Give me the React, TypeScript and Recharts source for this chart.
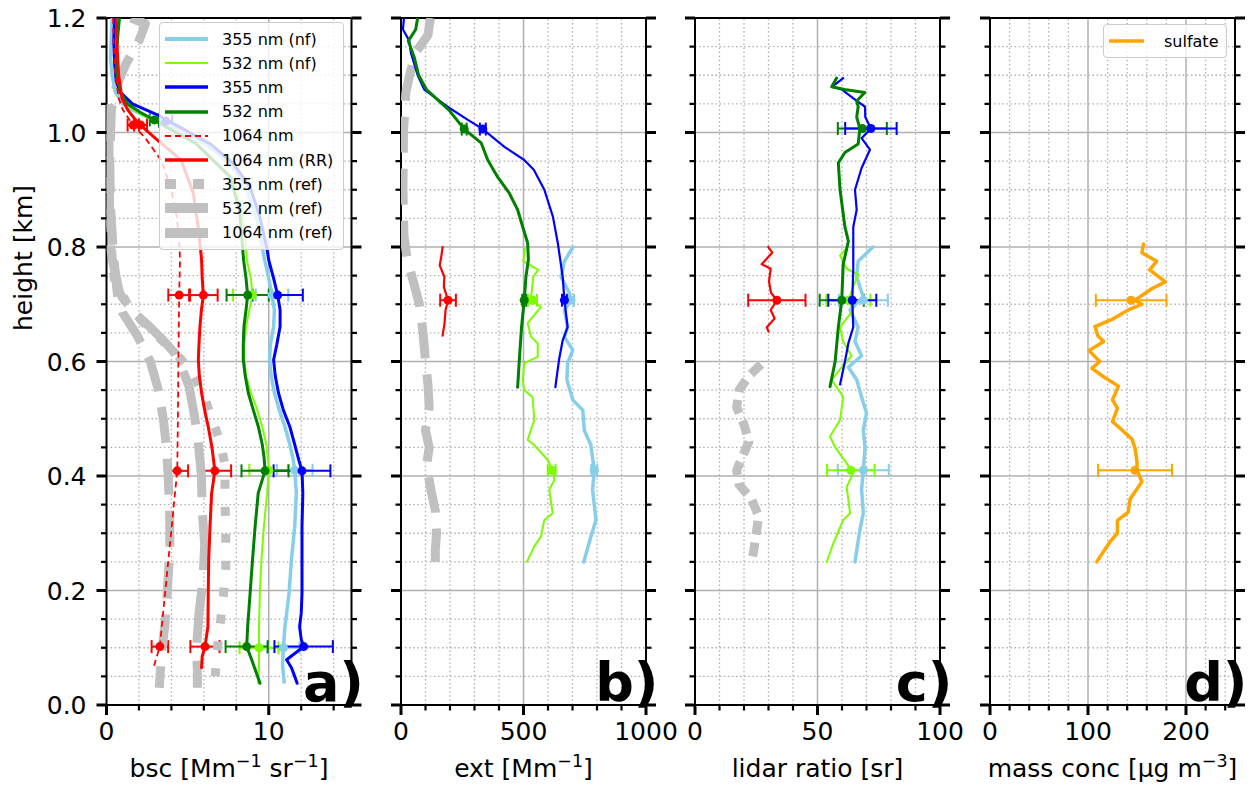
import React from "react";
import { ScatterChart, Scatter, XAxis, YAxis, ReferenceLine, ErrorBar, Legend } from "recharts";

// every profile point is [height km, value]; error points are [height km, value, error]
type Pt = [number, number];
type ErrPt = [number, number, number];

// ---------- a) backscatter coefficient [Mm-1 sr-1]
const bsc355nf: Pt[] = [
  [1.2, 0.35], [1.17, 0.3], [1.13, 0.25], [1.1, 0.35], [1.07, 0.55], [1.05, 1.0], [1.035, 1.9], [1.025, 2.8],
  [1.016, 3.7], [0.98, 6.1], [0.946, 7.6], [0.905, 8.6], [0.853, 9.25], [0.8, 9.6], [0.777, 9.75], [0.745, 10.0],
  [0.716, 10.2], [0.69, 10.35], [0.661, 10.3], [0.63, 10.1], [0.603, 10.05], [0.575, 10.15], [0.545, 10.35],
  [0.515, 10.65], [0.486, 11.0], [0.455, 11.3], [0.43, 11.5], [0.41, 11.6], [0.37, 11.7], [0.312, 11.6],
  [0.254, 11.4], [0.195, 11.25], [0.16, 11.1], [0.137, 11.0], [0.1, 10.9], [0.07, 10.85], [0.04, 10.95],
];
const bsc532nf: Pt[] = [
  [1.2, 0.6], [1.16, 0.5], [1.12, 0.5], [1.09, 0.6], [1.065, 0.85], [1.045, 1.4], [1.03, 2.2], [1.02, 3.0],
  [0.98, 5.6], [0.923, 7.7], [0.865, 8.35], [0.8, 8.6], [0.777, 8.65], [0.745, 8.9], [0.716, 9.0], [0.69, 8.8],
  [0.661, 8.6], [0.63, 8.5], [0.603, 8.5], [0.575, 8.6], [0.545, 8.9], [0.515, 9.3], [0.486, 9.6], [0.455, 9.85],
  [0.43, 9.95], [0.41, 10.0], [0.37, 9.9], [0.312, 9.7], [0.254, 9.55], [0.195, 9.45], [0.137, 9.4], [0.1, 9.4],
  [0.07, 9.4], [0.038, 9.35],
];
const bsc355: Pt[] = [
  [1.2, 0.5], [1.16, 0.45], [1.12, 0.5], [1.09, 0.6], [1.07, 0.85], [1.05, 1.6], [1.04, 2.4], [1.03, 3.2],
  [1.02, 3.8], [1.016, 4.1], [0.98, 6.4], [0.946, 7.8], [0.905, 8.85], [0.853, 9.45], [0.795, 9.9], [0.777, 10.0],
  [0.745, 10.3], [0.716, 10.55], [0.69, 10.7], [0.661, 10.7], [0.63, 10.5], [0.603, 10.3], [0.575, 10.4],
  [0.545, 10.6], [0.515, 10.9], [0.486, 11.3], [0.455, 11.6], [0.428, 11.85], [0.409, 12.05], [0.37, 12.1],
  [0.312, 12.05], [0.25, 12.05], [0.195, 12.05], [0.16, 12.0], [0.137, 11.9], [0.115, 12.0], [0.102, 12.15],
  [0.09, 11.6], [0.079, 11.1], [0.065, 11.4], [0.05, 11.6], [0.038, 11.75],
];
const bsc532: Pt[] = [
  [1.2, 0.8], [1.17, 0.7], [1.13, 0.6], [1.1, 0.65], [1.07, 0.85], [1.05, 1.3], [1.035, 2.1], [1.022, 2.9],
  [0.981, 5.5], [0.923, 7.6], [0.865, 8.2], [0.795, 8.4], [0.777, 8.45], [0.745, 8.6], [0.716, 8.7], [0.69, 8.6],
  [0.661, 8.47], [0.63, 8.43], [0.603, 8.43], [0.575, 8.55], [0.545, 8.74], [0.515, 9.05], [0.486, 9.36],
  [0.455, 9.6], [0.43, 9.72], [0.409, 9.77], [0.37, 9.35], [0.312, 9.16], [0.254, 9.0], [0.195, 8.85],
  [0.137, 8.7], [0.102, 8.64], [0.079, 8.95], [0.055, 9.25], [0.038, 9.46],
];
const bsc1064: Pt[] = [
  [1.2, 0.4], [1.15, 0.45], [1.1, 0.55], [1.06, 0.75], [1.04, 1.0], [1.025, 1.35], [1.013, 1.65], [0.99, 2.4],
  [0.95, 3.4], [0.9, 4.0], [0.85, 4.35], [0.8, 4.5], [0.777, 4.53], [0.716, 4.48], [0.65, 4.45], [0.6, 4.43],
  [0.5, 4.4], [0.409, 4.36], [0.35, 4.15], [0.3, 3.98], [0.25, 3.8], [0.2, 3.63], [0.15, 3.45], [0.102, 3.29],
  [0.08, 3.05], [0.063, 2.88],
];
const bsc1064rr: Pt[] = [
  [1.2, 0.6], [1.15, 0.65], [1.1, 0.75], [1.06, 0.95], [1.04, 1.3], [1.025, 1.7], [1.013, 2.1], [0.99, 3.0],
  [0.952, 4.6], [0.894, 5.35], [0.836, 5.65], [0.795, 5.8], [0.777, 5.86], [0.745, 5.9], [0.716, 5.97],
  [0.69, 5.85], [0.661, 5.76], [0.63, 5.7], [0.603, 5.66], [0.575, 5.72], [0.545, 5.86], [0.515, 6.05],
  [0.486, 6.27], [0.45, 6.5], [0.409, 6.68], [0.37, 6.48], [0.312, 6.38], [0.254, 6.3], [0.195, 6.27],
  [0.137, 6.25], [0.102, 6.07], [0.085, 5.9], [0.065, 5.86],
];
const refBsc355: Pt[] = [
  [0.85, 0.2], [0.8, 0.25], [0.74, 0.5], [0.7, 1.3], [0.67, 2.2], [0.64, 3.3], [0.61, 4.4], [0.58, 5.3],
  [0.54, 6.0], [0.5, 6.5], [0.46, 7.0], [0.42, 7.3], [0.36, 7.3], [0.3, 7.35], [0.24, 7.35], [0.19, 7.2],
  [0.14, 7.0], [0.09, 6.8], [0.05, 6.7],
];
const refBsc532: Pt[] = [
  [1.2, 1.5], [1.19, 2.4], [1.16, 2.0], [1.12, 1.2], [1.08, 0.6], [1.04, 0.3], [0.95, 0.2], [0.87, 0.25],
  [0.8, 0.4], [0.75, 0.55], [0.71, 0.7], [0.685, 1.0], [0.645, 1.9], [0.6, 2.7], [0.55, 3.2], [0.5, 3.5],
  [0.45, 3.7], [0.4, 3.8], [0.33, 3.9], [0.27, 3.9], [0.2, 3.75], [0.14, 3.6], [0.09, 3.4], [0.05, 3.3], [0.03, 3.25],
];
const refBsc1064: Pt[] = [
  [1.05, 0.15], [0.95, 0.15], [0.85, 0.2], [0.78, 0.35], [0.72, 0.8], [0.69, 1.5], [0.665, 2.5], [0.64, 3.4],
  [0.615, 4.2], [0.585, 4.7], [0.555, 5.1], [0.5, 5.45], [0.46, 5.65], [0.4, 5.85], [0.34, 5.9], [0.28, 6.05],
  [0.22, 5.95], [0.16, 5.7], [0.1, 5.55], [0.06, 5.6], [0.03, 5.6],
];
const errBsc355nf: ErrPt[] = [[0.716, 10.2, 1.0], [0.41, 11.6, 1.1], [0.1, 10.9, 1.0]];
const errBsc532nf: ErrPt[] = [[0.716, 9.0, 1.2], [0.41, 10.0, 1.2], [0.1, 9.4, 1.2]];
const errBsc355: ErrPt[] = [[1.02, 3.65, 0.4], [0.716, 10.55, 1.55], [0.409, 12.05, 1.75], [0.102, 12.15, 1.8]];
const errBsc532: ErrPt[] = [[1.022, 2.95, 0.28], [0.716, 8.7, 1.3], [0.409, 9.77, 1.45], [0.102, 8.64, 1.3]];
const errBsc1064: ErrPt[] = [[1.013, 1.65, 0.35], [0.716, 4.48, 0.67], [0.409, 4.36, 0.67], [0.102, 3.29, 0.51]];
const errBsc1064rr: ErrPt[] = [[1.013, 2.1, 0.4], [0.716, 5.97, 0.88], [0.409, 6.68, 1.0], [0.102, 6.07, 0.9]];

// ---------- b) extinction coefficient [Mm-1]
const ext355nf: Pt[] = [
  [0.8, 702], [0.775, 667], [0.748, 653], [0.72, 687], [0.707, 694], [0.69, 667], [0.66, 680], [0.643, 667],
  [0.62, 701], [0.597, 680], [0.568, 677], [0.533, 701], [0.515, 742], [0.48, 748], [0.454, 775], [0.41, 789],
  [0.376, 782], [0.323, 796], [0.294, 775], [0.25, 746],
];
const ext532nf: Pt[] = [
  [0.797, 506], [0.775, 500], [0.76, 560], [0.748, 540], [0.713, 531], [0.707, 537], [0.695, 571], [0.667, 517],
  [0.643, 531], [0.632, 558], [0.608, 558], [0.597, 503], [0.568, 497], [0.55, 503], [0.538, 537], [0.498, 544],
  [0.463, 517], [0.454, 544], [0.428, 599], [0.41, 619], [0.393, 626], [0.376, 605], [0.335, 619], [0.323, 585],
  [0.294, 571], [0.277, 544], [0.25, 514],
];
const ext355: Pt[] = [
  [1.2, 12], [1.18, 8], [1.16, 34], [1.14, 40], [1.1, 68], [1.075, 95], [1.045, 190], [1.022, 273], [1.006, 334],
  [0.975, 422], [0.952, 503], [0.935, 542], [0.9, 585], [0.853, 620], [0.807, 640], [0.748, 660], [0.707, 667],
  [0.66, 680], [0.637, 660], [0.603, 645], [0.555, 630],
];
const ext532: Pt[] = [
  [1.2, 68], [1.18, 60], [1.16, 30], [1.13, 55], [1.1, 72], [1.075, 104], [1.039, 196], [1.006, 258], [0.982, 327],
  [0.952, 354], [0.922, 395], [0.894, 442], [0.865, 476], [0.835, 497], [0.807, 517], [0.778, 520], [0.748, 510],
  [0.707, 503], [0.66, 492], [0.603, 483], [0.555, 476],
];
const ext1064: Pt[] = [
  [0.8, 170], [0.785, 165], [0.768, 158], [0.748, 177], [0.73, 175], [0.707, 192], [0.69, 182], [0.664, 177],
  [0.652, 172], [0.645, 170],
];
const refExt: Pt[] = [
  [1.2, 120], [1.17, 110], [1.14, 60], [1.1, 35], [1.07, 20], [1.0, 10], [0.9, 8], [0.82, 12], [0.78, 25],
  [0.74, 50], [0.7, 75], [0.65, 90], [0.6, 100], [0.56, 110], [0.52, 115], [0.48, 100], [0.45, 115], [0.42, 105],
  [0.38, 120], [0.34, 140], [0.3, 145], [0.27, 140], [0.25, 140],
];
const errExt355nf: ErrPt[] = [[0.707, 694, 12], [0.41, 789, 12]];
const errExt532nf: ErrPt[] = [[0.707, 537, 18], [0.41, 615, 16]];
const errExt355: ErrPt[] = [[1.006, 334, 12], [0.707, 667, 10]];
const errExt532: ErrPt[] = [[1.006, 258, 10], [0.707, 503, 8]];
const errExt1064: ErrPt[] = [[0.707, 192, 32]];

// ---------- c) lidar ratio [sr]
const lr355nf: Pt[] = [
  [0.8, 72.6], [0.775, 66.6], [0.748, 66], [0.73, 67.3], [0.713, 68.7], [0.69, 63.3], [0.66, 66.6], [0.635, 65.3],
  [0.61, 68], [0.59, 62.6], [0.568, 66], [0.538, 68], [0.51, 70], [0.48, 68.7], [0.451, 69.4], [0.41, 68.7],
  [0.376, 68], [0.335, 68.7], [0.306, 67.3], [0.25, 65.3],
];
const lr532nf: Pt[] = [
  [0.795, 61.2], [0.785, 59.2], [0.762, 61.9], [0.752, 66.6], [0.73, 64.5], [0.707, 62.6], [0.69, 64.6],
  [0.66, 59.2], [0.635, 60.5], [0.61, 63.9], [0.59, 59.9], [0.568, 55.8], [0.538, 60.5], [0.498, 59.2],
  [0.469, 55.1], [0.451, 57.1], [0.422, 61.9], [0.405, 64.6], [0.381, 61.9], [0.335, 63.3], [0.323, 60.5],
  [0.283, 56.5], [0.25, 53.8],
];
const lr355: Pt[] = [
  [1.095, 60.5], [1.08, 56], [1.075, 60], [1.06, 64.5], [1.045, 69.4], [1.027, 69.5], [1.007, 71.8], [0.99, 68],
  [0.97, 71.4], [0.938, 68], [0.9, 65.3], [0.865, 66], [0.835, 64.6], [0.807, 64.6], [0.762, 64.6], [0.707, 64.2],
  [0.66, 64.6], [0.632, 62.6], [0.6, 61.2], [0.56, 59.2],
];
const lr532: Pt[] = [
  [1.095, 57.8], [1.08, 55.8], [1.075, 61], [1.07, 69.3], [1.055, 66], [1.045, 66.6], [1.027, 66], [1.007, 67.3],
  [0.98, 66.6], [0.965, 61.2], [0.947, 58.5], [0.9, 59.2], [0.835, 61.2], [0.81, 62.6], [0.77, 60.5],
  [0.707, 59.9], [0.66, 58.5], [0.6, 57.2], [0.556, 55.1],
];
const lr1064: Pt[] = [
  [0.8, 29.9], [0.79, 31.5], [0.77, 27.2], [0.762, 30.9], [0.74, 30.2], [0.72, 31], [0.707, 33.4], [0.69, 30.9],
  [0.675, 32.5], [0.66, 29.3], [0.652, 30],
];
const refLr: Pt[] = [
  [0.595, 27], [0.575, 22], [0.55, 18], [0.52, 17], [0.49, 20], [0.46, 22], [0.43, 19], [0.41, 17], [0.385, 18],
  [0.36, 23], [0.33, 26], [0.3, 25], [0.27, 24], [0.25, 23],
];
const errLr355nf: ErrPt[] = [[0.707, 68.7, 10], [0.41, 68.7, 10.4]];
const errLr532nf: ErrPt[] = [[0.707, 62.6, 9], [0.41, 63.6, 9.7]];
const errLr355: ErrPt[] = [[1.007, 71.8, 10.5], [0.707, 64.2, 9.8]];
const errLr532: ErrPt[] = [[1.007, 68.3, 10], [0.707, 59.9, 9]];
const errLr1064: ErrPt[] = [[0.707, 33.4, 11.7]];

// ---------- d) sulfate mass concentration [ug m-3]
const sulfate: Pt[] = [
  [0.805, 156.6], [0.79, 155], [0.775, 170], [0.76, 163], [0.739, 179], [0.727, 165], [0.707, 148], [0.7, 155],
  [0.69, 141], [0.673, 124], [0.661, 107], [0.645, 110], [0.635, 116], [0.619, 101], [0.6, 112], [0.588, 104],
  [0.572, 117], [0.557, 131], [0.533, 125], [0.518, 130], [0.495, 125], [0.483, 133], [0.464, 145], [0.448, 148],
  [0.425, 150], [0.41, 150], [0.39, 155], [0.36, 143], [0.337, 141], [0.322, 130], [0.3, 130], [0.284, 122],
  [0.257, 111.5], [0.25, 109],
];
const errSulfate: ErrPt[] = [[0.707, 144, 36], [0.41, 148, 37.7]];

// ---------- ticks
const yTicks = [0, 0.05, 0.1, 0.15, 0.2, 0.25, 0.3, 0.35, 0.4, 0.45, 0.5, 0.55, 0.6, 0.65, 0.7, 0.75, 0.8, 0.85, 0.9, 0.95, 1.0, 1.05, 1.1, 1.15, 1.2];
const aTicks = [0, 2, 4, 6, 8, 10, 12, 14];
const bTicks = [0, 100, 200, 300, 400, 500, 600, 700, 800, 900, 1000];
const cTicks = [0, 10, 20, 30, 40, 50, 60, 70, 80, 90, 100];
const dTicks = [0, 20, 40, 60, 80, 100, 120, 140, 160, 180, 200, 220, 240];

const FONT = "DejaVu Sans, sans-serif";
const SKY = "#87ceeb";
const LAWN = "#7cfc00";
const BLUE = "#0000ff";
const GREEN = "#008000";
const RED = "#ff0000";
const GREY = "#c0c0c0";
const ORANGE = "#ffa500";
const GRID = "#b0b0b0";

const PLOT_W = 245;
const CH = 785;

type LineSpec = { data: Pt[]; color: string; width: number; dash?: string };
type ErrSpec = { data: ErrPt[]; color: string };
type Seg = { t: string; sup?: boolean };
type LegendItem = { name: string; color: string; width: number; dash?: string };

const ref355Style = { color: GREY, width: 9, dash: "9 18" };
const ref532Style = { color: GREY, width: 9, dash: "36 16" };
const ref1064Style = { color: GREY, width: 9, dash: "55 18" };

const toPts = (a: Pt[]) => a.map(([h, v]) => ({ h, v }));
const toErr = (a: ErrPt[]) => a.map(([h, v, err]) => ({ h, v, err }));
const isMajor = (v: number, step: number) => Math.abs(v / step - Math.round(v / step)) < 1e-6;
const noShape = () => <g />;

function tickFn(side: string, step: number, labelled: boolean, fmt: (v: number) => string) {
  return (p: any) => {
    const x = Number(p.x);
    const y = Number(p.y);
    const v = p.payload.value;
    const major = isMajor(v, step);
    const len = major ? 10 : 5.5;
    const dx = side === "left" ? -len : side === "right" ? len : 0;
    const dy = side === "bottom" ? len : side === "top" ? -len : 0;
    return (
      <g>
        <line x1={x} y1={y} x2={x + dx} y2={y + dy} stroke="#000" strokeWidth={major ? 3 : 2.2} />
        {labelled && major && side === "bottom" && (
          <text x={x} y={y + 35} textAnchor="middle" fontSize={25} fontFamily={FONT} fill="#000">{fmt(v)}</text>
        )}
        {labelled && major && side === "left" && (
          <text x={x - 20} y={y + 9} textAnchor="end" fontSize={25} fontFamily={FONT} fill="#000">{fmt(v)}</text>
        )}
      </g>
    );
  };
}

const segs = (list: Seg[]) =>
  list.map((s, i) => {
    const prevSup = i > 0 && list[i - 1].sup;
    const dy = s.sup ? -10 : prevSup ? 10 : 0;
    return (
      <tspan key={i} dy={dy} fontSize={s.sup ? 17.5 : 25}>{s.t}</tspan>
    );
  });

const LegendBox = ({ items, handle, gap, width }: { items: LegendItem[]; handle: number; gap: number; width: number }) => (
  <div
    style={{
      width,
      boxSizing: "border-box",
      background: "rgba(255,255,255,0.8)",
      border: "1px solid #cccccc",
      borderRadius: 4,
      padding: "4px 6px 4px 5px",
      fontFamily: FONT,
      fontSize: 16,
      color: "#000",
    }}
  >
    {items.map((it) => (
      <div key={it.name} style={{ display: "flex", alignItems: "center", height: 24.2, whiteSpace: "nowrap" }}>
        <svg width={handle} height={14} style={{ marginRight: gap, flex: "none" }}>
          <line x1={0} y1={7} x2={handle} y2={7} stroke={it.color} strokeWidth={it.width} strokeDasharray={it.dash} />
        </svg>
        <span>{it.name}</span>
      </div>
    ))}
  </div>
);

const legendA: LegendItem[] = [
  { name: "355 nm (nf)", color: SKY, width: 4 },
  { name: "532 nm (nf)", color: LAWN, width: 2.2 },
  { name: "355 nm", color: BLUE, width: 3.5 },
  { name: "532 nm", color: GREEN, width: 3.5 },
  { name: "1064 nm", color: RED, width: 2.2, dash: "6 4" },
  { name: "1064 nm (RR)", color: RED, width: 3.5 },
  { name: "355 nm (ref)", color: GREY, width: 10, dash: "11 17" },
  { name: "532 nm (ref)", color: GREY, width: 10 },
  { name: "1064 nm (ref)", color: GREY, width: 10 },
];
const legendD: LegendItem[] = [{ name: "sulfate", color: ORANGE, width: 3.5 }];

type PanelCfg = {
  chartLeft: number;
  chartWidth: number;
  marginLeft: number;
  leftW: number;
  xMax: number;
  xTicks: number[];
  xStep: number;
  lines: LineSpec[];
  errs: ErrSpec[];
  title: Seg[];
  letter: string;
  showY: boolean;
  legend?: { items: LegendItem[]; left: number; top: number; width: number; handle: number; gap: number };
};

const panels: PanelCfg[] = [
  {
    chartLeft: 0, chartWidth: 382, marginLeft: 0, leftW: 106.5, xMax: 15.1, xTicks: aTicks, xStep: 10,
    lines: [
      { data: refBsc1064, ...ref1064Style },
      { data: refBsc532, ...ref532Style },
      { data: refBsc355, ...ref355Style },
      { data: bsc355nf, color: SKY, width: 3.5 },
      { data: bsc532nf, color: LAWN, width: 2 },
      { data: bsc355, color: BLUE, width: 3 },
      { data: bsc532, color: GREEN, width: 3 },
      { data: bsc1064, color: RED, width: 1.8, dash: "6 4" },
      { data: bsc1064rr, color: RED, width: 3 },
    ],
    errs: [
      { data: errBsc355nf, color: SKY },
      { data: errBsc532nf, color: LAWN },
      { data: errBsc355, color: BLUE },
      { data: errBsc532, color: GREEN },
      { data: errBsc1064, color: RED },
      { data: errBsc1064rr, color: RED },
    ],
    title: [{ t: "bsc [Mm" }, { t: "\u22121", sup: true }, { t: " sr" }, { t: "\u22121", sup: true }, { t: "]" }],
    letter: "a)",
    showY: true,
    legend: { items: legendA, left: 159, top: 22, width: 185, handle: 43, gap: 14 },
  },
  {
    chartLeft: 370.5, chartWidth: 320, marginLeft: 20, leftW: 10, xMax: 1000, xTicks: bTicks, xStep: 500,
    lines: [
      { data: refExt, ...ref532Style },
      { data: ext355nf, color: SKY, width: 3.5 },
      { data: ext532nf, color: LAWN, width: 2 },
      { data: ext355, color: BLUE, width: 2.2 },
      { data: ext532, color: GREEN, width: 3 },
      { data: ext1064, color: RED, width: 2.2 },
    ],
    errs: [
      { data: errExt355nf, color: SKY },
      { data: errExt532nf, color: LAWN },
      { data: errExt355, color: BLUE },
      { data: errExt532, color: GREEN },
      { data: errExt1064, color: RED },
    ],
    title: [{ t: "ext [Mm" }, { t: "\u22121", sup: true }, { t: "]" }],
    letter: "b)",
    showY: false,
  },
  {
    chartLeft: 665, chartWidth: 320, marginLeft: 20, leftW: 10, xMax: 100, xTicks: cTicks, xStep: 50,
    lines: [
      { data: refLr, color: GREY, width: 9, dash: "14 8" },
      { data: lr355nf, color: SKY, width: 3.5 },
      { data: lr532nf, color: LAWN, width: 2 },
      { data: lr355, color: BLUE, width: 2.2 },
      { data: lr532, color: GREEN, width: 3 },
      { data: lr1064, color: RED, width: 2.2 },
    ],
    errs: [
      { data: errLr355nf, color: SKY },
      { data: errLr532nf, color: LAWN },
      { data: errLr532, color: GREEN },
      { data: errLr355, color: BLUE },
      { data: errLr1064, color: RED },
    ],
    title: [{ t: "lidar ratio [sr]" }],
    letter: "c)",
    showY: false,
  },
  {
    chartLeft: 959.5, chartWidth: 305, marginLeft: 20, leftW: 10, xMax: 250, xTicks: dTicks, xStep: 100,
    lines: [{ data: sulfate, color: ORANGE, width: 3.5 }],
    errs: [{ data: errSulfate, color: ORANGE }],
    title: [{ t: "mass conc [\u03bcg m" }, { t: "\u22123", sup: true }, { t: "]" }],
    letter: "d)",
    showY: false,
    legend: { items: legendD, left: 143.5, top: 24, width: 124, handle: 35, gap: 20 },
  },
];

function Panel({ cfg }: { cfg: PanelCfg }) {
  const marginRight = cfg.chartWidth - cfg.marginLeft - cfg.leftW - PLOT_W - 10;
  const xGrid = cfg.xTicks.filter((v) => v > 0 && v < cfg.xMax);
  const yGrid = yTicks.filter((v) => v > 0 && v < 1.2);
  const axisLine = { stroke: "#000", strokeWidth: 2 };
  const fmtX = (v: number) => String(v);
  const fmtY = (v: number) => v.toFixed(1);

  const bottomLabel = (p: any) => {
    const vb = p.viewBox;
    return (
      <g>
        <text x={vb.x + vb.width / 2} y={vb.y + 72} textAnchor="middle" fontFamily={FONT} fill="#000">
          {segs(cfg.title)}
        </text>
        <text x={vb.x + vb.width + 12.5} y={vb.y - 4} textAnchor="end" fontSize={54} fontWeight="bold" fontFamily={FONT} fill="#000">
          {cfg.letter}
        </text>
      </g>
    );
  };
  const leftLabel = () =>
    cfg.showY ? (
      <text transform="translate(32,258) rotate(-90)" textAnchor="middle" fontSize={25} fontFamily={FONT} fill="#000">
        height [km]
      </text>
    ) : null;

  return (
    <div style={{ position: "absolute", left: cfg.chartLeft, top: 0 }}>
      <ScatterChart
        width={cfg.chartWidth}
        height={CH}
        margin={{ top: 8, right: marginRight, bottom: 5, left: cfg.marginLeft }}
      >
        <XAxis
          xAxisId="x" type="number" dataKey="v" domain={[0, cfg.xMax]} allowDataOverflow ticks={cfg.xTicks}
          interval={0} height={75} tickSize={0} tickMargin={0} tickLine={false} axisLine={axisLine}
          tick={tickFn("bottom", cfg.xStep, true, fmtX)} label={{ content: bottomLabel }}
        />
        <XAxis
          xAxisId="xt" orientation="top" type="number" domain={[0, cfg.xMax]} allowDataOverflow ticks={cfg.xTicks}
          interval={0} height={10} tickSize={0} tickMargin={0} tickLine={false} axisLine={axisLine}
          tick={tickFn("top", cfg.xStep, false, fmtX)}
        />
        <YAxis
          yAxisId="y" type="number" dataKey="h" domain={[0, 1.2]} allowDataOverflow ticks={yTicks}
          interval={0} width={cfg.leftW} tickSize={0} tickMargin={0} tickLine={false} axisLine={axisLine}
          tick={tickFn("left", 0.2, cfg.showY, fmtY)} label={{ content: leftLabel }}
        />
        <YAxis
          yAxisId="yr" orientation="right" type="number" domain={[0, 1.2]} allowDataOverflow ticks={yTicks}
          interval={0} width={10} tickSize={0} tickMargin={0} tickLine={false} axisLine={axisLine}
          tick={tickFn("right", 0.2, false, fmtY)}
        />
        {xGrid.map((v) => (
          <ReferenceLine
            key={"gx" + v} x={v} xAxisId="x" yAxisId="y" stroke={GRID}
            strokeWidth={isMajor(v, cfg.xStep) ? 1.5 : 1.3}
            strokeDasharray={isMajor(v, cfg.xStep) ? undefined : "1.5 2.6"}
          />
        ))}
        {yGrid.map((v) => (
          <ReferenceLine
            key={"gy" + v} y={v} xAxisId="x" yAxisId="y" stroke={GRID}
            strokeWidth={isMajor(v, 0.2) ? 1.5 : 1.3}
            strokeDasharray={isMajor(v, 0.2) ? undefined : "1.5 2.6"}
          />
        ))}
        {cfg.lines.map((s, i) => (
          <Scatter
            key={"l" + i}
            data={toPts(s.data)}
            xAxisId="x"
            yAxisId="y"
            fill={s.color}
            line={{
              stroke: s.color,
              strokeWidth: s.width,
              strokeDasharray: s.dash,
              strokeLinejoin: "round",
              strokeLinecap: s.dash ? "butt" : "round",
            }}
            shape={noShape}
            isAnimationActive={false}
          />
        ))}
        {cfg.errs.map((e, i) => (
          <Scatter
            key={"e" + i}
            data={toErr(e.data)}
            xAxisId="x"
            yAxisId="y"
            fill={e.color}
            shape="circle"
            isAnimationActive={false}
          >
            <ErrorBar dataKey="err" direction="x" width={6.5} stroke={e.color} strokeWidth={2} isAnimationActive={false} />
          </Scatter>
        ))}
        {cfg.legend && (
          <Legend
            layout="vertical"
            align="center"
            verticalAlign="middle"
            wrapperStyle={{ left: cfg.legend.left, top: cfg.legend.top, width: cfg.legend.width }}
            content={() => (
              <LegendBox
                items={cfg.legend!.items}
                handle={cfg.legend!.handle}
                gap={cfg.legend!.gap}
                width={cfg.legend!.width}
              />
            )}
          />
        )}
      </ScatterChart>
    </div>
  );
}

export default function App() {
  return (
    <div
      style={{
        position: "absolute",
        left: 0,
        top: 0,
        width: 1258,
        height: 785,
        overflow: "hidden",
        background: "#fff",
        fontFamily: FONT,
      }}
    >
      {panels.map((p) => (
        <Panel key={p.letter} cfg={p} />
      ))}
    </div>
  );
}
